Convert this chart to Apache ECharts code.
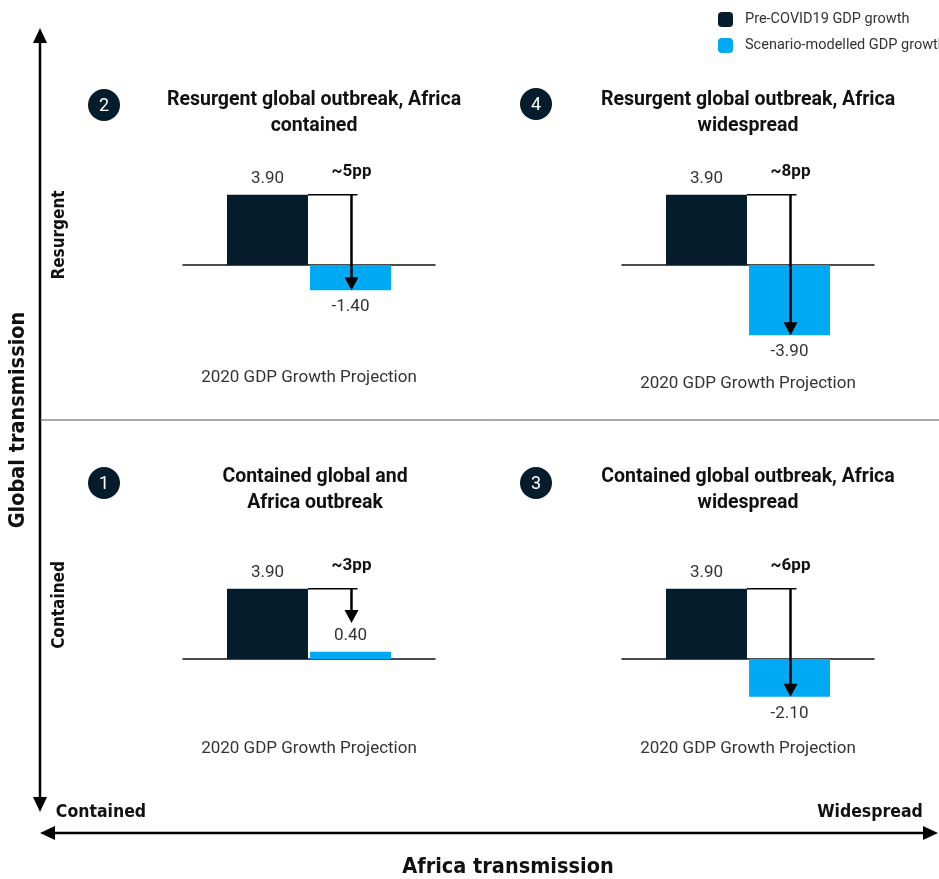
<!DOCTYPE html>
<html>
<head>
<meta charset="utf-8">
<script src="https://cdn.jsdelivr.net/npm/echarts@6/dist/echarts.min.js"></script>
<style>
  html, body { margin: 0; padding: 0; background: #fff; }
  #chart { width: 939px; height: 879px; }
</style>
</head>
<body>
<div id="chart"></div>
<script>
// data
var seriesNames = ['Pre-COVID19 GDP growth', 'Scenario-modelled GDP growth'];
var categories = ['2020 GDP Growth Projection'];
// panel order: top-left, top-right, bottom-left, bottom-right
var scenarioNums = ['2', '4', '1', '3'];
var scenarioTitles = [
  'Resurgent global outbreak, Africa\ncontained',
  'Resurgent global outbreak, Africa\nwidespread',
  'Contained global and\nAfrica outbreak',
  'Contained global outbreak, Africa\nwidespread'
];
var preCovid = [3.9, 3.9, 3.9, 3.9];
var scenario = [-1.4, -3.9, 0.4, -2.1];
var dropLabels = ['~5pp', '~8pp', '~3pp', '~6pp'];
var arrowTips = [-1.4, -3.9, 2.0, -2.1];

var DARK = '#051c2c';
var BLUE = '#00a9f4';
var BAR_W = 81;
var NUM_FONT = 'Roboto, "Noto Sans", sans-serif';
var NARROW = '"Liberation Sans Narrow", "DejaVu Sans Condensed", sans-serif';

var myChart = echarts.init(document.getElementById('chart'));

// layout of the four small charts
var panelLeft = [183, 622, 183, 622];
var panelTop = [193, 193, 587, 587];
var labelMargin = [32, 38, 9, 9];
var titleX = [314, 748, 315, 748];
var titleY = [87, 87, 464, 464];
var badgeX = [104, 536, 104, 536];
var badgeY = [105, 104, 483, 483];

var grids = [], xAxes = [], yAxes = [], series = [], graphics = [];

// step arrow from the pre-covid level down to the scenario level
var renderDrop = function(params, api){
  var top = api.coord([api.value(0), api.value(1)]);
  var tip = api.coord([api.value(0), api.value(2)]);
  var ax = top[0] + BAR_W / 2 + 2;
  return {
    type: 'group',
    children: [
      { type: 'line', shape: { x1: top[0] - 1, y1: top[1], x2: ax + 6, y2: top[1] },
        style: { stroke: '#000', lineWidth: 1.5 } },
      { type: 'line', shape: { x1: ax, y1: top[1], x2: ax, y2: tip[1] - 10 },
        style: { stroke: '#000', lineWidth: 2.5 } },
      { type: 'polygon', shape: { points: [[ax - 7, tip[1] - 13], [ax + 7, tip[1] - 13], [ax, tip[1]]] },
        style: { fill: '#000' } },
      { type: 'text', x: ax, y: top[1] - 23,
        style: { text: dropLabels[api.value(3)],
          align: 'center', verticalAlign: 'middle', textAlign: 'center', textVerticalAlign: 'middle',
          fontSize: 17, fontWeight: 'bold', fontFamily: NUM_FONT, fill: '#111' } }
    ]
  };
};

for (var i = 0; i < 4; i++) {
  grids.push({ left: panelLeft[i], top: panelTop[i], width: 252, height: 144 });
  xAxes.push({
    type: 'category', gridIndex: i, data: categories,
    axisLine: { show: true, onZero: true, lineStyle: { color: '#111', width: 1.5 } },
    axisTick: { show: false },
    axisLabel: { margin: labelMargin[i], fontSize: 17, color: '#333', fontFamily: NUM_FONT },
    splitLine: { show: false }
  });
  yAxes.push({ type: 'value', gridIndex: i, min: -4, max: 4, show: false });

  var valueLabel = {
    show: true, distance: 8, fontSize: 17, color: '#333', fontFamily: NUM_FONT,
    formatter: function(p){ return p.value.toFixed(2); }
  };
  series.push({
    name: seriesNames[0], type: 'bar', xAxisIndex: i, yAxisIndex: i,
    barWidth: BAR_W, barGap: '2.5%',
    itemStyle: { color: DARK },
    label: valueLabel,
    data: [{ value: preCovid[i], label: { position: preCovid[i] < 0 ? 'bottom' : 'top' } }]
  });
  series.push({
    name: seriesNames[1], type: 'bar', xAxisIndex: i, yAxisIndex: i,
    barWidth: BAR_W, barGap: '2.5%',
    itemStyle: { color: BLUE },
    label: valueLabel,
    data: [{ value: scenario[i], label: { position: scenario[i] < 0 ? 'bottom' : 'top' } }]
  });
  series.push({
    type: 'custom', xAxisIndex: i, yAxisIndex: i, z: 5, silent: true,
    renderItem: renderDrop,
    encode: { x: 0, y: [1, 2] },
    data: [[0, preCovid[i], arrowTips[i], i]]
  });

  graphics.push({
    type: 'text', x: titleX[i], y: titleY[i],
    style: { text: scenarioTitles[i], align: 'center', textAlign: 'center',
      verticalAlign: 'top', textVerticalAlign: 'top', lineHeight: 26,
      fontSize: 19.5, fontWeight: 'bold', fontFamily: NUM_FONT, fill: '#111' }
  });
  graphics.push({
    type: 'circle', shape: { cx: badgeX[i], cy: badgeY[i], r: 16 }, style: { fill: DARK }
  });
  graphics.push({
    type: 'text', x: badgeX[i], y: badgeY[i] + 1,
    style: { text: scenarioNums[i], align: 'center', textAlign: 'center',
      verticalAlign: 'middle', textVerticalAlign: 'middle',
      fontSize: 18, fontFamily: NUM_FONT, fill: '#fff' }
  });
}

// quadrant frame: axes with arrows, divider, axis names
var arrowStyle = { stroke: '#000', lineWidth: 2.5 };
graphics.push(
  { type: 'line', shape: { x1: 40, y1: 40, x2: 40, y2: 800 }, style: arrowStyle },
  { type: 'polygon', shape: { points: [[40, 28], [33, 43], [47, 43]] }, style: { fill: '#000' } },
  { type: 'polygon', shape: { points: [[40, 812], [33, 797], [47, 797]] }, style: { fill: '#000' } },
  { type: 'line', shape: { x1: 52, y1: 833, x2: 925, y2: 833 }, style: arrowStyle },
  { type: 'polygon', shape: { points: [[40, 833], [55, 826], [55, 840]] }, style: { fill: '#000' } },
  { type: 'polygon', shape: { points: [[938, 833], [923, 826], [923, 840]] }, style: { fill: '#000' } },
  { type: 'line', shape: { x1: 40, y1: 420, x2: 939, y2: 420 }, style: { stroke: '#555', lineWidth: 1 } }
);

var axisText = function(txt, x, y, size, rot){
  return {
    type: 'text', x: x, y: y, rotation: rot || 0,
    style: { text: txt, align: 'center', textAlign: 'center', verticalAlign: 'middle',
      textVerticalAlign: 'middle', fontSize: size, fontWeight: 'bold', fontFamily: NARROW, fill: '#111' }
  };
};
graphics.push(
  axisText('Global transmission', 18, 420, 21.5, Math.PI / 2),
  axisText('Resurgent', 60, 235, 17, Math.PI / 2),
  axisText('Contained', 60, 605, 17, Math.PI / 2),
  axisText('Contained', 101, 812, 17.5),
  axisText('Widespread', 870, 812, 17.5),
  axisText('Africa transmission', 508, 867, 21.5)
);

var option = {
  animation: false,
  legend: {
    data: seriesNames, orient: 'vertical', left: 718, top: 12,
    itemWidth: 15, itemHeight: 15, itemGap: 11, padding: 0,
    textStyle: { fontSize: 14.5, color: '#333', fontFamily: NUM_FONT, padding: [0, 0, 0, 7] }
  },
  grid: grids,
  xAxis: xAxes,
  yAxis: yAxes,
  series: series,
  graphic: { elements: graphics }
};

myChart.setOption(option);
</script>
</body>
</html>
